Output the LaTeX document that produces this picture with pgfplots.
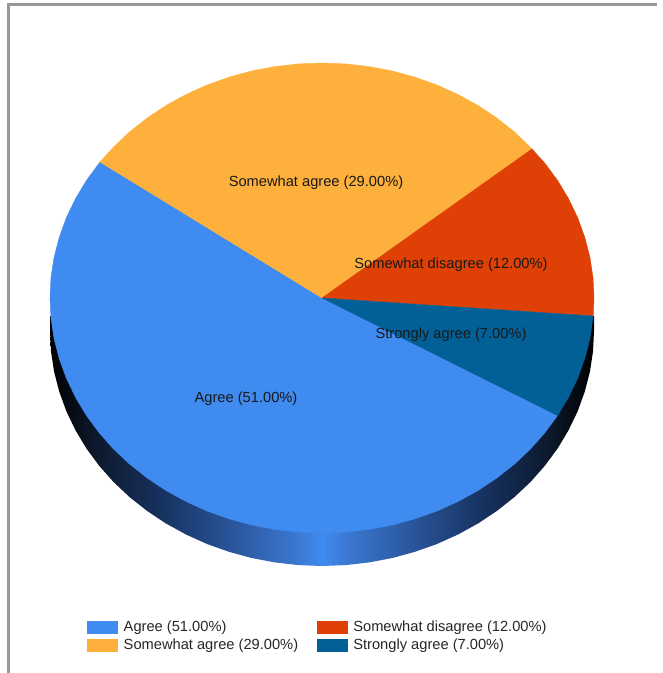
\documentclass[border=0pt]{standalone}
\usepackage{fontspec}
\setmainfont{Liberation Sans}
\usepackage{pgfplots}
\pgfplotsset{compat=1.18}

\definecolor{cAgree}{HTML}{3F8BF0}
\definecolor{cSomewhat}{HTML}{FDB13C}
\definecolor{cDisagree}{HTML}{DF4005}
\definecolor{cStrongly}{HTML}{026096}
\definecolor{cFrame}{HTML}{999999}

% side wall of the pie: black at the rim, blue at the front
\pgfdeclarehorizontalshading{wallshade}{100bp}{
  rgb(0bp)=(0,0,0);
  rgb(25bp)=(0,0,0);
  rgb(29.3bp)=(0.05,0.10,0.18);
  rgb(35.4bp)=(0.09,0.20,0.38);
  rgb(41.5bp)=(0.16,0.33,0.60);
  rgb(47.7bp)=(0.23,0.47,0.82);
  rgb(50bp)=(0.247,0.545,0.941);
  rgb(52.3bp)=(0.23,0.47,0.82);
  rgb(58.5bp)=(0.16,0.33,0.60);
  rgb(64.6bp)=(0.09,0.20,0.38);
  rgb(70.7bp)=(0.05,0.10,0.18);
  rgb(75bp)=(0,0,0);
  rgb(100bp)=(0,0,0)}

\begin{document}
\begin{tikzpicture}
\useasboundingbox (0,0) rectangle (496.5pt,504.75pt);
\begin{axis}[
    at={(0,0)},
    anchor=south west,
    scale only axis,
    width=496.5pt,
    height=504.75pt,
    xmin=0, xmax=662,
    ymin=0, ymax=673,
    y dir=reverse,
    hide axis,
    font=\fontsize{11}{13}\selectfont,
    legend columns=2,
    transpose legend,
    legend cell align=left,
    legend style={
        at={(axis cs:87,618)}, anchor=north west,
        draw=none, fill=none, inner sep=0pt,
        row sep=0.2pt,
        text=black!85,
        /tikz/every even column/.append style={column sep=12pt},
    },
    legend image code/.code={
        \fill[#1] (0pt,-4.5pt) rectangle (22.5pt,4.5pt);
        \path[draw=none] (0pt,0pt) -- (25.2pt,0pt);
    },
]

% frame
\addplot[forget plot, cFrame, line width=2.25pt] coordinates {(8.5,673) (8.5,4.5) (657,4.5)};

% side wall
\addplot[forget plot, draw=none, shading=wallshade, shading angle=0] coordinates {
(50,316)(50,331)(51,351.5)(54.1,371.8)(59.3,391.8)(66.4,411.4)(75.5,430.3)(86.4,448.5)(99.2,465.8)
(113.6,482.1)(129.7,497.2)(147.2,511)(166,523.5)(186,534.5)(207,544)(229,551.8)(251.6,558)(274.8,562.4)
(298.3,565.1)(322,566)(345.7,565.1)(369.2,562.4)(392.4,558)(415,551.8)(437,544)(458,534.5)(478,523.5)
(496.8,511)(514.3,497.2)(530.4,482.1)(544.8,465.8)(557.6,448.5)(568.5,430.3)(577.6,411.4)(584.7,391.8)
(589.9,371.8)(593,351.5)(594,331)(594,316)(50,316)};

% Agree, 51
\addplot[fill=cAgree, draw=cAgree, line width=0.3pt] coordinates {
(322,298)(100,162)(86.4,180.5)(75.5,198.7)(66.4,217.6)(59.3,237.2)(54.1,257.2)(51,277.5)(50,298)
(51,318.5)(54.1,338.8)(59.3,358.8)(66.4,378.4)(75.5,397.3)(86.4,415.5)(99.2,432.8)(113.6,449.1)
(129.7,464.2)(147.2,478)(166,490.5)(186,501.5)(207,511)(229,518.8)(251.6,525)(274.8,529.4)(298.3,532.1)
(322,533)(345.7,532.1)(369.2,529.4)(392.4,525)(415,518.8)(437,511)(458,501.5)(478,490.5)(496.8,478)
(514.3,464.2)(530.4,449.1)(544.8,432.8)(557.6,415.5)(322,298)};
\addlegendentry{Agree (51.00\%)}

% Somewhat agree, 29
\addplot[fill=cSomewhat, draw=cSomewhat, line width=0.3pt] coordinates {
(322,298)(532,149)(514.3,131.8)(496.8,118)(478,105.5)(458,94.5)(437,85)(415,77.2)(392.4,71)(369.2,66.6)
(345.7,63.9)(322,63)(298.3,63.9)(274.8,66.6)(251.6,71)(229,77.2)(207,85)(186,94.5)(166,105.5)(147.2,118)
(129.7,131.8)(113.6,146.9)(100,162)(322,298)};
\addlegendentry{Somewhat agree (29.00\%)}

% Somewhat disagree, 12
\addplot[fill=cDisagree, draw=cDisagree, line width=0.3pt] coordinates {
(322,298)(593.2,316)(594,298)(593,277.5)(589.9,257.2)(584.7,237.2)(577.6,217.6)(568.5,198.7)(557.6,180.5)
(544.8,163.2)(532,149)(322,298)};
\addlegendentry{Somewhat disagree (12.00\%)}

% Strongly agree, 7
\addplot[fill=cStrongly, draw=cStrongly, line width=0.3pt] coordinates {
(322,298)(557.6,415.5)(568.5,397.3)(577.6,378.4)(584.7,358.8)(589.9,338.8)(593.2,316)(322,298)};
\addlegendentry{Strongly agree (7.00\%)}

\node[text=black!90] at (axis cs:316,182.5) {Somewhat agree (29.00\%)};
\node[text=black!90] at (axis cs:451,265) {Somewhat disagree (12.00\%)};
\node[text=black!90] at (axis cs:451,335) {Strongly agree (7.00\%)};
\node[text=black!90] at (axis cs:246,399) {Agree (51.00\%)};

\end{axis}
\end{tikzpicture}
\end{document}
